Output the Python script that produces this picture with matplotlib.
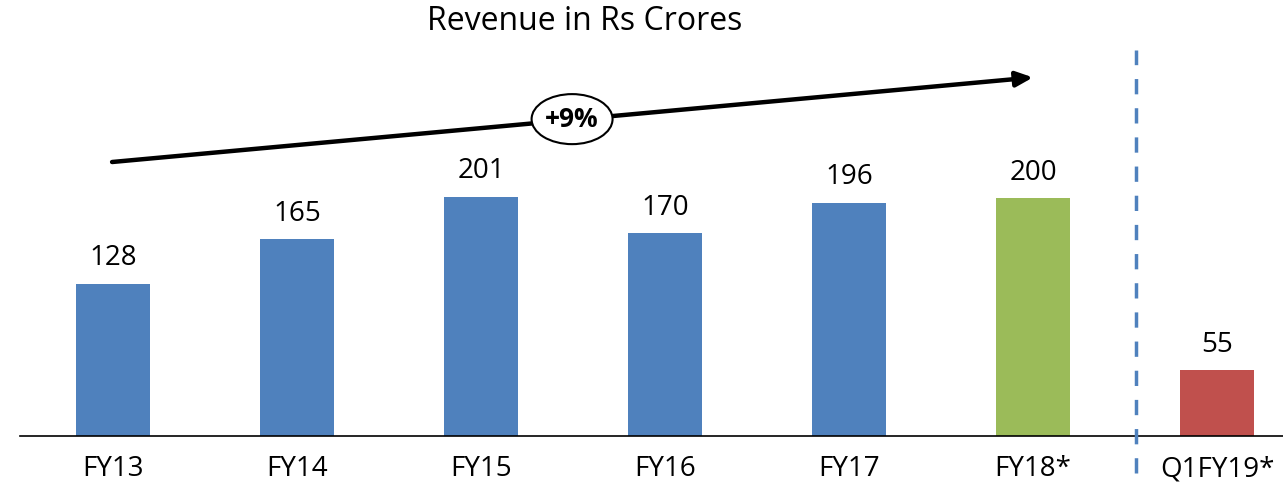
import matplotlib.pyplot as plt
from matplotlib.patches import Ellipse

# data
periods = ['FY13', 'FY14', 'FY15', 'FY16', 'FY17', 'FY18*', 'Q1FY19*']
revenue = [128, 165, 201, 170, 196, 200, 55]
colors = ['#4F81BD'] * 5 + ['#9BBB59', '#C0504D']
growth_label = '+9%'

plt.rcParams['font.family'] = ['Open Sans', 'DejaVu Sans']

fig = plt.figure(figsize=(12.83, 4.83), dpi=100)
ax = fig.add_axes([0, 47 / 483, 1, 436 / 483])

x = list(range(len(periods)))
bars = ax.bar(x, revenue, width=0.4, color=colors, zorder=2)

for xi, v in zip(x, revenue):
    ax.annotate(str(v), (xi, v), xytext=(0, 8), textcoords='offset points',
                ha='center', va='bottom', fontsize=20)

ax.set_xlim(-113 / 184, 1170 / 184)
ax.set_ylim(0, 366)

# axis styling
for s in ['top', 'left', 'right']:
    ax.spines[s].set_visible(False)
ax.spines['bottom'].set_bounds(-0.505, 6.5)
ax.spines['bottom'].set_linewidth(1.2)
ax.set_yticks([])
ax.set_xticks(x)
ax.set_xticklabels(periods, fontsize=20)
ax.tick_params(axis='x', length=0, pad=14)

# divider between annual and quarter
ax.plot([5.56, 5.56], [-31, 324], color='#4F81BD', lw=2.5, ls=(0, (4.4, 4.0)),
        clip_on=False, zorder=3)

# growth arrow
ax.annotate('', xy=(5.0, 301), xytext=(-0.005, 230),
            arrowprops=dict(arrowstyle='-|>,head_length=1.0,head_width=0.45',
                            lw=3.2, color='black', shrinkA=0, shrinkB=0))
ax.add_patch(Ellipse((2.495, 266), 0.44, 42, facecolor='white',
                     edgecolor='black', lw=1.5, zorder=4))
ax.text(2.495, 266, growth_label, ha='center', va='center', fontsize=19,
        fontweight='bold', zorder=5)

fig.text(585 / 1283, 1 - 22 / 483, 'Revenue in Rs Crores', ha='center',
         va='center', fontsize=23)

fig.savefig('out.png', dpi=100)
